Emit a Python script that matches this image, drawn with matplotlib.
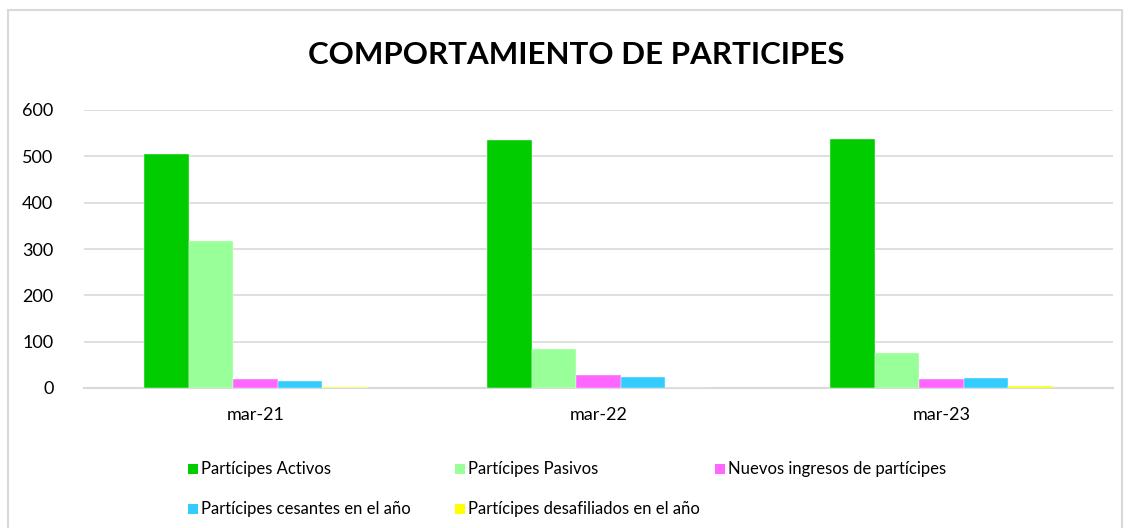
import matplotlib.pyplot as plt
import numpy as np
from matplotlib.patches import Rectangle

plt.rcParams['font.family'] = ['Lato', 'DejaVu Sans']

categories = ['mar-21', 'mar-22', 'mar-23']
series_names = [
    'Partícipes Activos',
    'Partícipes Pasivos',
    'Nuevos ingresos de partícipes',
    'Partícipes cesantes en el año',
    'Partícipes desafiliados en el año',
]
activos = [505, 535, 537]
pasivos = [317, 84, 75]
nuevos = [20, 27, 19]
cesantes = [16, 24, 22]
desafiliados = [2, 0, 5]
colors = ['#00CC00', '#99FF99', '#FF66FF', '#33CCFF', '#FFFF00']

W, H = 1132, 528
fig = plt.figure(figsize=(W / 100, H / 100), dpi=100)
ax = fig.add_axes([84 / W, 1 - 388 / H, (1113 - 84) / W, (388 - 110) / H])

values = [activos, pasivos, nuevos, cesantes, desafiliados]
x = np.arange(len(categories))
n = len(values)
bw = 0.648 / n
for i, (vals, c) in enumerate(zip(values, colors)):
    ax.bar(x + (i - (n - 1) / 2) * bw, vals, width=bw, color=c,
           edgecolor='#f0fff0', linewidth=0.3, zorder=3)

ax.set_xlim(-0.5, len(categories) - 0.5)
ax.set_ylim(0, 600)
ax.set_yticks(range(0, 601, 100))
ax.set_xticks(x)
ax.set_xticklabels(categories, fontsize=13)
ax.tick_params(axis='y', labelsize=13, length=0, pad=22)
ax.tick_params(axis='x', length=0, pad=14)
ax.grid(axis='y', color='#d9d9d9', linewidth=1.2, zorder=0)
for s in ['top', 'right', 'left']:
    ax.spines[s].set_visible(False)
ax.spines['bottom'].set_color('#d9d9d9')
ax.spines['bottom'].set_linewidth(1.5)

fig.text(576 / W, 1 - 55 / H, 'COMPORTAMIENTO DE PARTICIPES', ha='center',
         va='center', fontsize=22.5, fontweight='bold')

# chart border
fig.patches.append(Rectangle((8 / W, -0.01), (1122 - 8) / W, 1 - 10 / H + 0.01,
                             transform=fig.transFigure, fill=False,
                             edgecolor='#d9d9d9', linewidth=1.5))

# legend, laid out like the spreadsheet one
leg_pos = [(193, 469), (460, 469), (720, 469), (193, 509), (460, 509)]
sq = 10
for (px, py), name, c in zip(leg_pos, series_names, colors):
    fig.patches.append(Rectangle(((px - sq / 2) / W, 1 - (py + sq / 2) / H),
                                 sq / W, sq / H, transform=fig.transFigure,
                                 facecolor=c, edgecolor='none'))
    fig.text((px + sq / 2 + 3) / W, 1 - py / H, name, ha='left', va='center',
             fontsize=12)

fig.savefig('out.png', dpi=100)
